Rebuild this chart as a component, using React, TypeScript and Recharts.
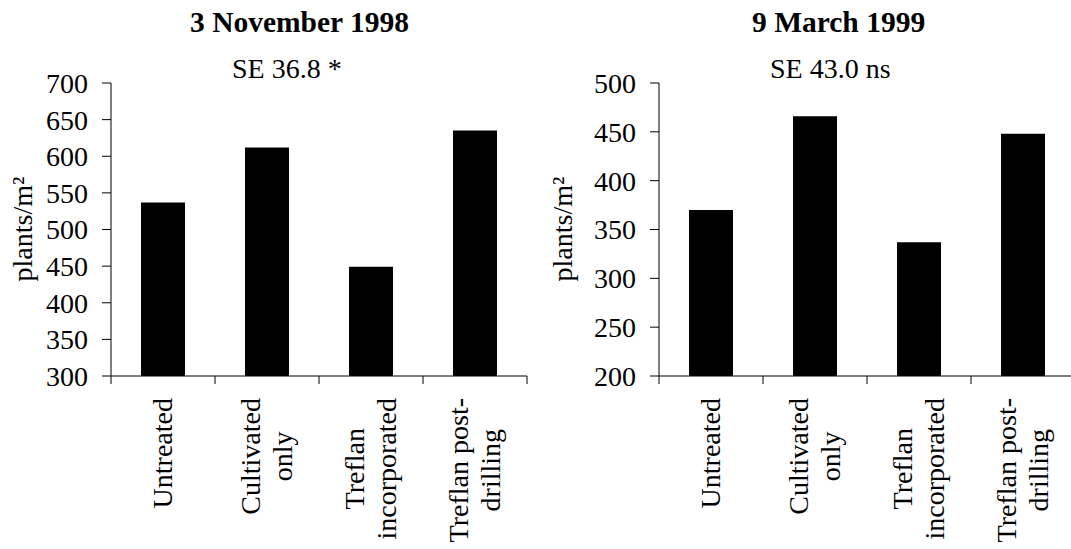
import React from 'react';
import { BarChart, Bar, XAxis, YAxis } from 'recharts';

const categories = ['Untreated', 'Cultivated only', 'Treflan incorporated', 'Treflan post-drilling'];
const categoryLines = [['Untreated'], ['Cultivated', 'only'], ['Treflan', 'incorporated'], ['Treflan post-', 'drilling']];
const nov1998Values = [537, 612, 449, 635];
const mar1999Values = [370, 466, 337, 448];
const nov1998Ticks = [300, 350, 400, 450, 500, 550, 600, 650, 700];
const mar1999Ticks = [200, 250, 300, 350, 400, 450, 500];
const panelTitles = ['3 November 1998', '9 March 1999'];
const panelSubtitles = ['SE 36.8 *', 'SE 43.0 ns'];
const yLabel = 'plants/m²';

const FONT = '"Liberation Serif", "Times New Roman", serif';
const CHART_H = 549;
const Y_AXIS_W = 111;
const PLOT_W = 416;
const TOP = 83;
const X_AXIS_H = 173;
const CAT_FS = 28;
const LINE_H = 32;
const LABEL_GAP = 22;

let ctx: CanvasRenderingContext2D | null = null;
const measure = (t: string) => {
  if (!ctx) {
    ctx = document.createElement('canvas').getContext('2d');
  }
  if (!ctx) return t.length * CAT_FS * 0.45;
  ctx.font = `${CAT_FS}px "Liberation Serif"`;
  return ctx.measureText(t).width;
};

const CategoryTick = (props: any) => {
  const { x, y, payload } = props;
  const idx = categories.indexOf(payload.value);
  const band = PLOT_W / categories.length;
  const lines = categoryLines[idx] ?? [String(payload.value)];
  const longest = Math.max(...lines.map((l) => measure(l)));
  const cy = y + LABEL_GAP + longest / 2;
  const n = lines.length;
  return (
    <g>
      <line x1={x - band / 2} x2={x - band / 2} y1={y} y2={y + 8} stroke="#000" strokeWidth={1} />
      {idx === categories.length - 1 && (
        <line x1={x + band / 2} x2={x + band / 2} y1={y} y2={y + 8} stroke="#000" strokeWidth={1} />
      )}
      {lines.map((l, i) => {
        const bx = x + (i - (n - 1) / 2) * LINE_H + 9;
        return (
          <text
            key={i}
            x={bx}
            y={cy}
            transform={`rotate(-90 ${bx} ${cy})`}
            textAnchor="middle"
            fontSize={CAT_FS}
            fontFamily={FONT}
            fill="#000"
          >
            {l}
          </text>
        );
      })}
    </g>
  );
};

function Panel({ values, ticks, width }: { values: number[]; ticks: number[]; width: number }) {
  const data = categories.map((name, i) => ({ name, value: values[i] }));
  return (
    <BarChart
      width={width}
      height={CHART_H}
      data={data}
      margin={{ top: TOP, right: width - Y_AXIS_W - PLOT_W, bottom: 0, left: 0 }}
      barCategoryGap={0}
    >
      <XAxis
        dataKey="name"
        type="category"
        interval={0}
        height={X_AXIS_H}
        tickLine={false}
        tickSize={0}
        tickMargin={0}
        axisLine={{ stroke: '#000', strokeWidth: 1 }}
        tick={<CategoryTick />}
      />
      <YAxis
        type="number"
        domain={[ticks[0], ticks[ticks.length - 1]]}
        ticks={ticks}
        interval={0}
        width={Y_AXIS_W}
        tickSize={9}
        tickMargin={14}
        axisLine={{ stroke: '#000', strokeWidth: 1 }}
        tickLine={{ stroke: '#000', strokeWidth: 1 }}
        tick={{ fill: '#000', fontSize: 28, fontFamily: FONT }}
        allowDataOverflow
      />
      <Bar dataKey="value" fill="#000" barSize={44} isAnimationActive={false} />
    </BarChart>
  );
}

export default function App() {
  return (
    <div
      style={{
        position: 'absolute',
        left: 0,
        top: 0,
        width: 1071,
        height: 549,
        overflow: 'hidden',
        background: '#fff',
        fontFamily: FONT,
      }}
    >
      <div style={{ position: 'absolute', left: 0, top: 0 }}>
        <Panel values={nov1998Values} ticks={nov1998Ticks} width={540} />
      </div>
      <div style={{ position: 'absolute', left: 548, top: 0 }}>
        <Panel values={mar1999Values} ticks={mar1999Ticks} width={527} />
      </div>
      <svg
        width={1071}
        height={549}
        style={{ position: 'absolute', left: 0, top: 0, pointerEvents: 'none' }}
      >
        <text x={190} y={32} fontSize={29.5} fontWeight="bold" fontFamily={FONT} fill="#000">
          {panelTitles[0]}
        </text>
        <text x={232} y={78} fontSize={28} fontFamily={FONT} fill="#000">
          {panelSubtitles[0]}
        </text>
        <text x={752} y={32} fontSize={29.5} fontWeight="bold" fontFamily={FONT} fill="#000">
          {panelTitles[1]}
        </text>
        <text x={770} y={78} fontSize={28} fontFamily={FONT} fill="#000">
          {panelSubtitles[1]}
        </text>
        <text
          x={32}
          y={229}
          transform="rotate(-90 32 229)"
          textAnchor="middle"
          fontSize={28}
          fontFamily={FONT}
          fill="#000"
        >
          {yLabel}
        </text>
        <text
          x={572}
          y={229}
          transform="rotate(-90 572 229)"
          textAnchor="middle"
          fontSize={28}
          fontFamily={FONT}
          fill="#000"
        >
          {yLabel}
        </text>
      </svg>
    </div>
  );
}
